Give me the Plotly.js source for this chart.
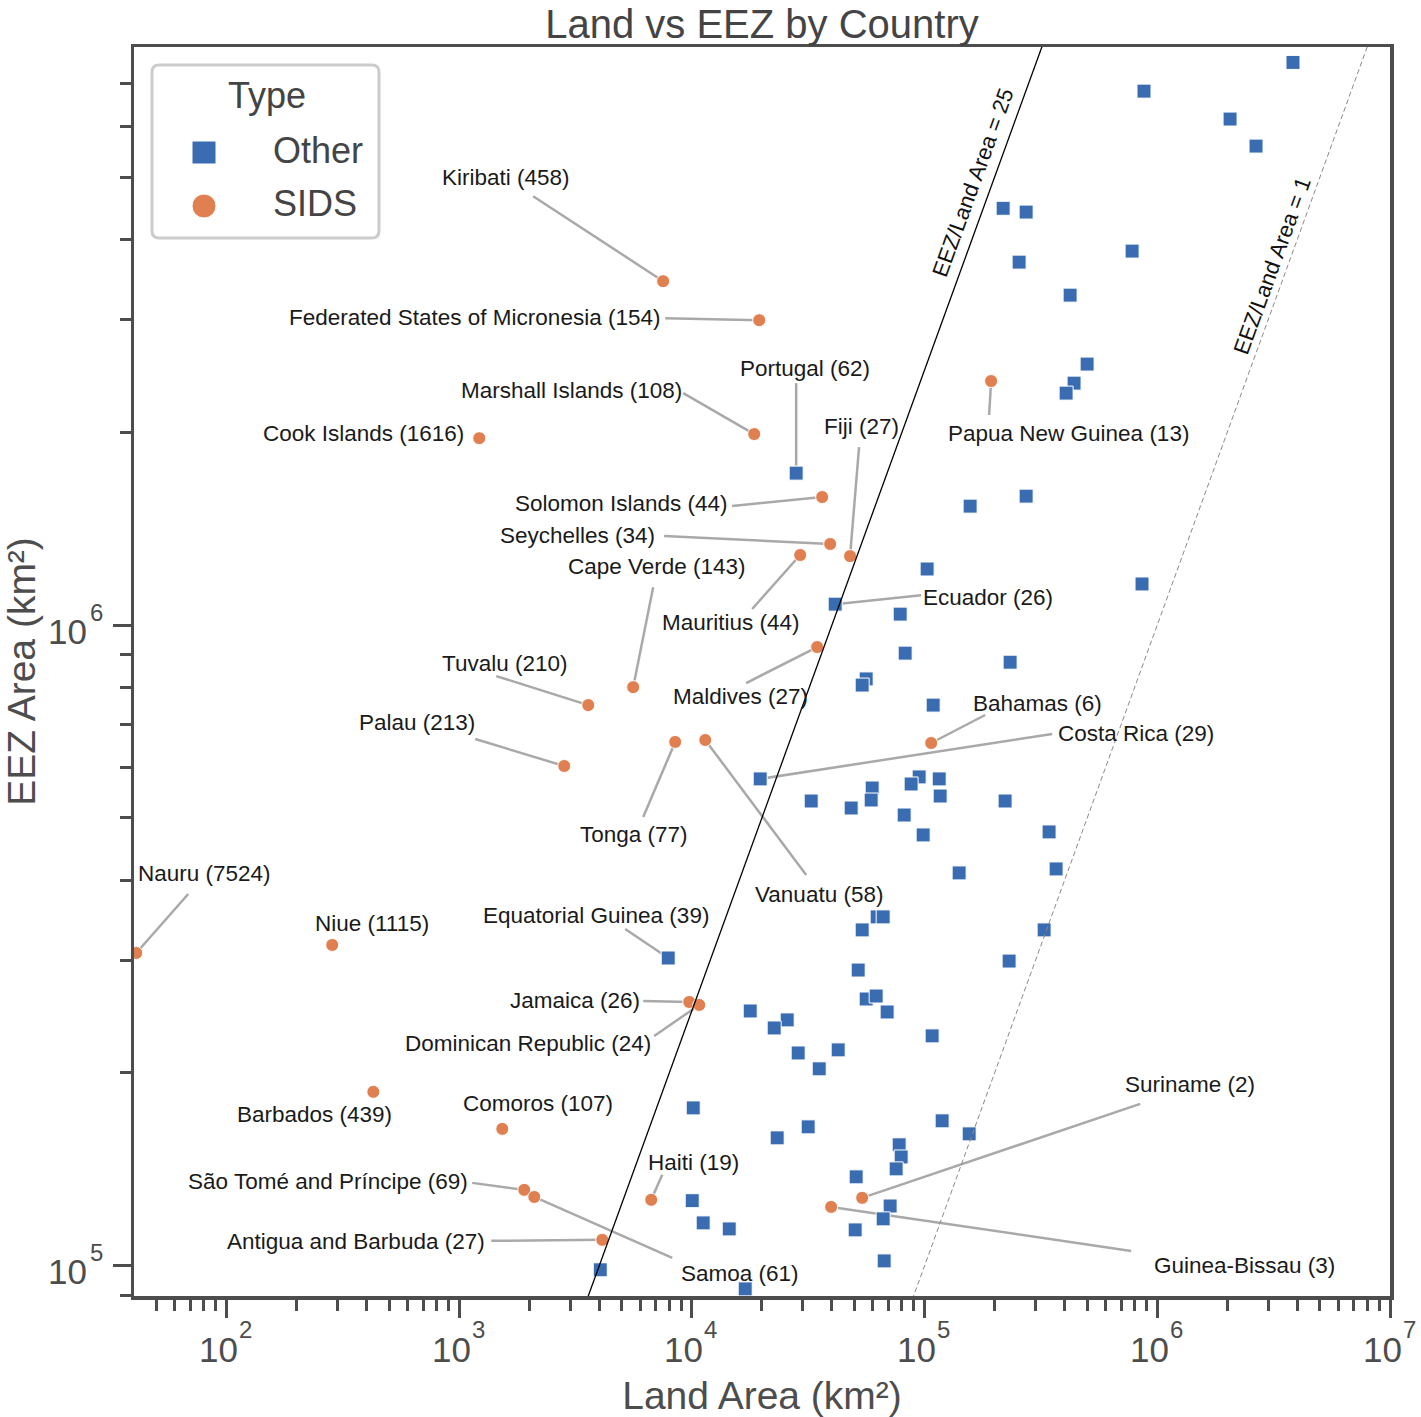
<!DOCTYPE html>
<html>
<head>
<meta charset="utf-8">
<script src="https://cdn.plot.ly/plotly-3.0.1.min.js"></script>
<style>
  html, body { margin: 0; padding: 0; background: #fff; }
  #chart { width: 1421px; height: 1417px; }
</style>
</head>
<body>
<div id="chart"></div>
<script>
// Small island developing states: land and EEZ area (km2), label shows EEZ/land ratio
const sidsCountries = ['Kiribati', 'Federated States of Micronesia', 'Marshall Islands', 'Cook Islands',
  'Solomon Islands', 'Seychelles', 'Fiji', 'Mauritius', 'Cape Verde', 'Maldives', 'Tuvalu', 'Palau',
  'Tonga', 'Vanuatu', 'Bahamas', 'Papua New Guinea', 'Nauru', 'Niue', 'Jamaica', 'Dominican Republic',
  'Barbados', 'Comoros', 'São Tomé and Príncipe', 'Samoa', 'Antigua and Barbuda', 'Haiti',
  'Suriname', 'Guinea-Bissau'];
const sidsLand = [7530, 19480, 18540, 1221, 36310, 39300, 47860, 29210, 5598, 34560, 3589, 2830,
  8484, 11420, 106800, 193200, 41, 285, 9745, 10760, 428, 1533, 1905, 2104, 4122, 6693, 53950, 39690];
const sidsEez = [3440000, 2990000, 1986000, 1957000, 1584000, 1338000, 1281000, 1286000, 800000,
  924000, 750000, 602600, 657000, 661600, 654500, 2403000, 307800, 316800, 258100, 255400, 186900,
  163600, 131400, 128100, 109800, 126800, 127700, 123600];
const sidsRatio = [458, 154, 108, 1616, 44, 34, 27, 44, 143, 27, 210, 213, 77, 58, 6, 13, 7524, 1115,
  26, 24, 439, 107, 69, 61, 27, 19, 2, 3];

// other countries: only the first four get a label
const otherCountries = ['Portugal', 'Ecuador', 'Costa Rica', 'Equatorial Guinea'];
const otherRatio = [62, 26, 29, 39];
const otherLand = [28080, 41300, 19670, 7917,
  3830000, 877000, 2055000, 2657000, 217600, 273200, 254900, 779500, 422200, 499500, 439000, 405800,
  157000, 273200, 102600, 860000, 78580, 82550, 233200, 56120, 53950, 108900, 32580, 48380, 59560,
  58970, 94800, 87580, 115600, 116700, 221900, 81740, 98630, 342900, 140800, 367500, 62580, 66410,
  53950, 326400, 230900, 51860, 56120, 61960, 69070, 17820, 25690, 22590, 107800, 28640, 42550,
  35270, 10140, 119000, 155500, 31620, 23270, 77800, 79350, 75510, 50840, 10040, 11190, 14480,
  71150, 66410, 50340, 67070, 4042, 16960];
const otherEez = [1726000, 1078000, 575300, 302300,
  7550000, 6810000, 6160000, 5590000, 4470000, 4410000, 3684000, 3833000, 3272000, 2554000, 2385000,
  2301000, 1533000, 1589000, 1223000, 1159000, 1040000, 904000, 875000, 824000, 806000, 750000,
  531400, 518200, 556800, 533300, 579400, 564900, 575300, 541000, 531400, 505300, 470400, 475500,
  410400, 416300, 350400, 350400, 334400, 334400, 299000, 289500, 260900, 263700, 249000, 249900,
  242000, 235100, 228500, 214900, 217300, 203000, 176400, 168400, 160700, 164800, 158400, 154500,
  147900, 141700, 137700, 126400, 116700, 114200, 124000, 118400, 113800, 101800, 98600, 92070];

const ratioLines = [25, 1];
const xTickVals = [1e2, 1e3, 1e4, 1e5, 1e6, 1e7];
const yTickVals = [1e5, 1e6];

const FONT = 'Liberation Sans, Arial, Helvetica, sans-serif';
const BLUE = '#3a6cb1';
const ORANGE = '#e07f50';
const AXIS = '#4d4d4d';

const W = 1421, H = 1417;
const M = {l: 134, r: 31, t: 47, b: 121};
const xRange = [Math.log10(40.1), 7];
const yRange = [4.953, 6.902];
const plotW = W - M.l - M.r, plotH = H - M.t - M.b;
const pxPerDecX = plotW / (xRange[1] - xRange[0]);
const pxPerDecY = plotH / (yRange[1] - yRange[0]);

// label placement in screen pixels relative to the point: [textDx, textDy, leaderDx, leaderDy]
const placement = {
  'Kiribati': [-157, -104, -130, -85],
  'Federated States of Micronesia': [-285, -3, -94, -2],
  'Marshall Islands': [-183, -44, -71, -41],
  'Cook Islands': [-116, -5, null, null],
  'Solomon Islands': [-201, 6, -90, 9],
  'Seychelles': [-253, -9, -166, -8],
  'Fiji': [11, -130, 9, -109],
  'Mauritius': [-69, 67, -48, 54],
  'Cape Verde': [24, -121, 20, -100],
  'Maldives': [-77, 49, -71, 36],
  'Tuvalu': [-84, -42, -92, -29],
  'Palau': [-147, -44, -89, -27],
  'Tonga': [-41, 93, -32, 75],
  'Vanuatu': [114, 154, 101, 135],
  'Bahamas': [106, -40, 54, -28],
  'Papua New Guinea': [77, 52, -2, 34],
  'Nauru': [68, -79, 52, -59],
  'Niue': [40, -21, null, null],
  'Jamaica': [-114, -1, -46, -1],
  'Dominican Republic': [-171, 39, -45, 31],
  'Barbados': [-59, 23, null, null],
  'Comoros': [36, -25, null, null],
  'São Tomé and Príncipe': [-196, -8, -52, -7],
  'Samoa': [206, 77, 138, 61],
  'Antigua and Barbuda': [-246, 2, -111, 1],
  'Haiti': [42, -37, 11, -25],
  'Suriname': [328, -113, 278, -94],
  'Guinea-Bissau': [413, 59, 300, 44],
  'Portugal': [9, -105, 0, -90],
  'Ecuador': [153, -7, 86, -9],
  'Costa Rica': [376, -45, 292, -45],
  'Equatorial Guinea': [-72, -43, -43, -29]
};

const shapes = [];
const annotations = [];

function addLabel(name, ratio, land, eez) {
  const [tdx, tdy, ldx, ldy] = placement[name];
  if (ldx !== null) {
    // leader from the marker to a point beside the label, offset given in screen pixels
    shapes.push({
      type: 'line', layer: 'below', xref: 'x', yref: 'y',
      x0: land, y0: eez,
      x1: land * Math.pow(10, ldx / pxPerDecX), y1: eez * Math.pow(10, -ldy / pxPerDecY),
      line: {color: '#a9a9a9', width: 2.5}
    });
  }
  annotations.push({
    xref: 'x', yref: 'y', x: Math.log10(land), y: Math.log10(eez),
    text: name + ' (' + ratio + ')', showarrow: false,
    xanchor: 'center', yanchor: 'middle', xshift: tdx, yshift: -tdy,
    font: {family: FONT, size: 22.5, color: '#1a1a1a'}
  });
}

sidsCountries.forEach((c, i) => addLabel(c, sidsRatio[i], sidsLand[i], sidsEez[i]));
otherCountries.forEach((c, i) => addLabel(c, otherRatio[i], otherLand[i], otherEez[i]));

// rotated captions beside the ratio lines
const lineLabels = [
  {ratio: 25, eez: 4.91e6, xshift: -20},
  {ratio: 1, eez: 3.645e6, xshift: -16}
];
lineLabels.forEach(l => {
  annotations.push({
    xref: 'x', yref: 'y', x: Math.log10(l.eez / l.ratio), y: Math.log10(l.eez),
    text: 'EEZ/Land Area = ' + l.ratio, showarrow: false, textangle: -70,
    xanchor: 'center', yanchor: 'middle', xshift: l.xshift,
    font: {family: FONT, size: 22, color: '#111'}
  });
});

// power-of-ten tick labels written as "10" plus a raised exponent
const tickFont = s => ({family: FONT, size: s, color: AXIS});
xTickVals.forEach(v => {
  const e = Math.round(Math.log10(v));
  annotations.push({xref: 'x', yref: 'paper', x: e, y: 0, text: '10', showarrow: false,
    xanchor: 'center', yanchor: 'middle', xshift: -8, yshift: -53, font: tickFont(35)});
  annotations.push({xref: 'x', yref: 'paper', x: e, y: 0, text: String(e), showarrow: false,
    xanchor: 'center', yanchor: 'middle', xshift: 19, yshift: -33, font: tickFont(24)});
});
yTickVals.forEach(v => {
  const e = Math.round(Math.log10(v));
  annotations.push({xref: 'paper', yref: 'y', x: 0, y: e, text: '10', showarrow: false,
    xanchor: 'center', yanchor: 'middle', xshift: -67, yshift: -6, font: tickFont(35)});
  annotations.push({xref: 'paper', yref: 'y', x: 0, y: e, text: String(e), showarrow: false,
    xanchor: 'center', yanchor: 'middle', xshift: -38, yshift: 13, font: tickFont(24)});
});

// hand drawn legend box (pixel positions converted to paper units)
const pX = x => (x - M.l) / plotW;
const pY = y => (H - M.b - y) / plotH;
function roundRect(x0, y0, x1, y1, r) {
  const pts = [
    ['M', x0 + r, y0], ['L', x1 - r, y0], ['Q', x1, y0, x1, y0 + r], ['L', x1, y1 - r],
    ['Q', x1, y1, x1 - r, y1], ['L', x0 + r, y1], ['Q', x0, y1, x0, y1 - r], ['L', x0, y0 + r],
    ['Q', x0, y0, x0 + r, y0]
  ];
  return pts.map(p => {
    let s = p[0];
    for (let k = 1; k < p.length; k += 2) s += ' ' + pX(p[k]).toFixed(5) + ',' + pY(p[k + 1]).toFixed(5);
    return s;
  }).join(' ') + ' Z';
}
shapes.push({type: 'path', xref: 'paper', yref: 'paper', path: roundRect(152, 65, 379, 238, 7),
  fillcolor: 'rgba(255,255,255,0.85)', line: {color: '#cccccc', width: 3}, layer: 'above'});
shapes.push({type: 'rect', xref: 'paper', yref: 'paper', x0: pX(192), x1: pX(216), y0: pY(164), y1: pY(141),
  fillcolor: BLUE, line: {color: 'white', width: 1}, layer: 'above'});
shapes.push({type: 'circle', xref: 'paper', yref: 'paper', x0: pX(192), x1: pX(216), y0: pY(218), y1: pY(194),
  fillcolor: ORANGE, line: {color: 'white', width: 1}, layer: 'above'});
annotations.push({xref: 'paper', yref: 'paper', x: pX(267), y: pY(96), text: 'Type', showarrow: false,
  xanchor: 'center', yanchor: 'middle', font: {family: FONT, size: 36, color: '#444'}});
annotations.push({xref: 'paper', yref: 'paper', x: pX(271), y: pY(151), text: 'Other', showarrow: false,
  xanchor: 'left', yanchor: 'middle', font: {family: FONT, size: 36, color: '#444'}});
annotations.push({xref: 'paper', yref: 'paper', x: pX(271), y: pY(204), text: 'SIDS', showarrow: false,
  xanchor: 'left', yanchor: 'middle', font: {family: FONT, size: 36, color: '#444'}});

// minor tick positions 2..9 x 10^k inside the ranges
function minorTicks(lo, hi) {
  const out = [];
  for (let k = Math.floor(lo); k <= Math.ceil(hi); k++) {
    for (let m = 2; m <= 9; m++) {
      const v = m * Math.pow(10, k);
      if (Math.log10(v) >= lo && Math.log10(v) <= hi) out.push(v);
    }
  }
  return out;
}

const xEnds = [Math.pow(10, xRange[0]), Math.pow(10, xRange[1])];

const traces = [
  {
    x: otherLand, y: otherEez, type: 'scatter', mode: 'markers', name: 'Other',
    marker: {symbol: 'square', size: 14, color: BLUE, line: {color: 'white', width: 1}},
    hoverinfo: 'skip'
  },
  {
    x: sidsLand, y: sidsEez, type: 'scatter', mode: 'markers', name: 'SIDS',
    marker: {symbol: 'circle', size: 13, color: ORANGE, line: {color: 'white', width: 1}},
    hoverinfo: 'skip'
  }
].concat(ratioLines.map(r => ({
  x: xEnds, y: xEnds.map(v => v * r), type: 'scatter', mode: 'lines',
  line: r === 1 ? {color: '#8a8a8a', width: 1, dash: '5px,3px'} : {color: '#000', width: 1.3},
  hoverinfo: 'skip'
})));

const axisCommon = {
  type: 'log', showgrid: false, zeroline: false,
  showline: true, linecolor: AXIS, linewidth: 3.5, mirror: true,
  ticks: 'outside', ticklen: 18, tickwidth: 3, tickcolor: AXIS,
  tickmode: 'array', showticklabels: false
};

const layout = {
  width: W, height: H, margin: M,
  paper_bgcolor: 'white', plot_bgcolor: 'white', showlegend: false,
  font: {family: FONT},
  title: {text: 'Land vs EEZ by Country', x: 0.5, xref: 'paper', xanchor: 'center',
    y: 1 - 23.5 / H, yref: 'container', yanchor: 'middle', font: {family: FONT, size: 40, color: '#444'}},
  xaxis: Object.assign({}, axisCommon, {
    range: xRange, tickvals: xTickVals,
    minor: {ticks: 'outside', ticklen: 11, tickwidth: 3, tickcolor: AXIS, tickmode: 'array',
      tickvals: minorTicks(xRange[0], xRange[1])},
    title: {text: 'Land Area (km²)', font: {family: FONT, size: 39, color: AXIS}, standoff: 72}
  }),
  yaxis: Object.assign({}, axisCommon, {
    range: yRange, tickvals: yTickVals,
    minor: {ticks: 'outside', ticklen: 11, tickwidth: 3, tickcolor: AXIS, tickmode: 'array',
      tickvals: minorTicks(yRange[0], yRange[1])},
    title: {text: 'EEZ Area (km²)', font: {family: FONT, size: 39, color: AXIS}, standoff: 78}
  }),
  shapes: shapes,
  annotations: annotations
};

Plotly.newPlot('chart', traces, layout, {displayModeBar: false, staticPlot: true});
</script>
</body>
</html>
